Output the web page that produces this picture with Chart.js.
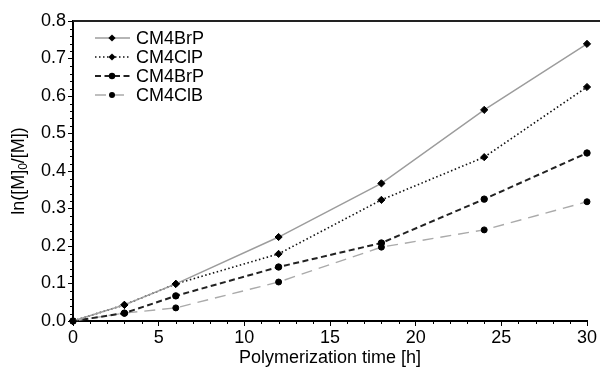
<!DOCTYPE html>
<html>
<head>
<meta charset="utf-8">
<script src="https://cdn.jsdelivr.net/npm/chart.js@4.4.1/dist/chart.umd.min.js"></script>
<style>
  html, body { margin: 0; padding: 0; background: #fff; }
</style>
</head>
<body>
<canvas id="chart" width="600" height="372"></canvas>
<script>
// data
const hours = [0, 3, 6, 12, 18, 24, 30];
const brP1 = [0, 0.043, 0.099, 0.224, 0.367, 0.563, 0.739];
const clP = [0, 0.043, 0.099, 0.179, 0.323, 0.437, 0.624];
const brP2 = [0, 0.021, 0.067, 0.144, 0.208, 0.325, 0.448];
const clB = [0, 0.021, 0.035, 0.104, 0.197, 0.243, 0.318];
const seriesNames = ['CM4BrP', 'CM4ClP', 'CM4BrP', 'CM4ClB'];
const xTitle = 'Polymerization time [h]';

const FONT = '"Liberation Sans", Arial, sans-serif';

function pts(ys) {
  return hours.map((h, i) => ({ x: h, y: ys[i] }));
}

const styles = [
  { color: '#9c9c9c', dash: [], width: 1.4, marker: 'rectRot', r: 3.6 },
  { color: '#111', dash: [1.5, 2.5], width: 1.6, marker: 'rectRot', r: 3.6 },
  { color: '#222', dash: [6, 3.5], width: 2, marker: 'circle', r: 3.2 },
  { color: '#aaa', dash: [11, 7], width: 1.4, marker: 'circle', r: 3 }
];
const seriesData = [brP1, clP, brP2, clB];

const datasets = seriesData.map((ys, i) => ({
  label: seriesNames[i],
  data: pts(ys),
  borderColor: styles[i].color,
  borderDash: styles[i].dash,
  borderWidth: styles[i].width,
  pointStyle: styles[i].marker,
  pointRadius: styles[i].r,
  pointBackgroundColor: '#000',
  pointBorderColor: '#000',
  pointBorderWidth: 1,
  tension: 0,
  clip: false
}));

// minor ticks, top border, legend, rotated y title
const decor = {
  id: 'decor',
  afterDraw(chart) {
    const ctx = chart.ctx;
    const a = chart.chartArea;
    const x = chart.scales.x, y = chart.scales.y;
    ctx.save();
    ctx.strokeStyle = '#000';
    ctx.lineWidth = 1;
    for (let v = 0; v <= 30; v += 1) {
      if (v % 5 === 0) continue;
      const px = Math.round(x.getPixelForValue(v)) + 0.5;
      ctx.beginPath(); ctx.moveTo(px, a.bottom); ctx.lineTo(px, a.bottom + 3); ctx.stroke();
    }
    for (let k = 0; k <= 40; k++) {
      if (k % 5 === 0) continue;
      const py = Math.round(y.getPixelForValue(k * 0.02)) + 0.5;
      ctx.beginPath(); ctx.moveTo(a.left - 3, py); ctx.lineTo(a.left, py); ctx.stroke();
    }
    // top frame line
    ctx.strokeStyle = '#222';
    ctx.lineWidth = 2;
    ctx.beginPath(); ctx.moveTo(a.left, a.top); ctx.lineTo(chart.width, a.top); ctx.stroke();

    // legend
    ctx.font = '18px ' + FONT;
    ctx.textBaseline = 'middle';
    ctx.fillStyle = '#000';
    seriesNames.forEach((name, i) => {
      const s = styles[i];
      const ly = 38 + i * 19;
      ctx.strokeStyle = s.color;
      ctx.lineWidth = s.width;
      ctx.setLineDash(s.dash);
      ctx.beginPath(); ctx.moveTo(95, ly); ctx.lineTo(130, ly); ctx.stroke();
      ctx.setLineDash([]);
      ctx.fillStyle = '#000';
      ctx.beginPath();
      if (s.marker === 'rectRot') {
        ctx.moveTo(112, ly - s.r); ctx.lineTo(112 + s.r, ly); ctx.lineTo(112, ly + s.r); ctx.lineTo(112 - s.r, ly);
        ctx.closePath();
      } else {
        ctx.arc(112, ly, s.r, 0, Math.PI * 2);
      }
      ctx.fill();
      ctx.fillText(name, 136, ly + 1);
    });

    // y title with subscript
    ctx.translate(19, (a.top + a.bottom) / 2);
    ctx.rotate(-Math.PI / 2);
    const p1 = 'ln([M]', sub = '0', p2 = '/[M])';
    ctx.font = '18px ' + FONT;
    const w1 = ctx.measureText(p1).width, w3 = ctx.measureText(p2).width;
    ctx.font = '12px ' + FONT;
    const w2 = ctx.measureText(sub).width;
    const total = w1 + w2 + w3;
    let cx = -total / 2;
    ctx.textAlign = 'left';
    ctx.font = '18px ' + FONT;
    ctx.fillText(p1, cx, 0); cx += w1;
    ctx.font = '12px ' + FONT;
    ctx.fillText(sub, cx, 5); cx += w2;
    ctx.font = '18px ' + FONT;
    ctx.fillText(p2, cx, 0);
    ctx.restore();
  }
};

new Chart(document.getElementById('chart'), {
  type: 'line',
  data: { datasets },
  options: {
    responsive: false,
    animation: false,
    layout: { padding: { top: 21, right: 13, left: 0, bottom: 0 } },
    plugins: { legend: { display: false }, tooltip: { enabled: false } },
    scales: {
      x: {
        type: 'linear', min: 0, max: 30,
        ticks: { stepSize: 5, color: '#000', font: { family: FONT, size: 18 }, padding: 1, maxRotation: 0 },
        grid: { drawOnChartArea: false, drawTicks: true, tickLength: 5, tickColor: '#000', tickWidth: 1 },
        border: { display: true, color: '#000', width: 2 },
        title: { display: true, text: xTitle, color: '#000', font: { family: FONT, size: 18 }, padding: { top: 0, bottom: 3 } },
        afterFit(s) { s.height = 51; }
      },
      y: {
        min: 0, max: 0.8,
        ticks: { stepSize: 0.1, color: '#000', font: { family: FONT, size: 18 }, padding: 2, callback: v => v.toFixed(1) },
        grid: { drawOnChartArea: false, drawTicks: true, tickLength: 5, tickColor: '#000', tickWidth: 1 },
        border: { display: true, color: '#000', width: 2 },
        afterFit(s) { s.width = 73; }
      }
    }
  },
  plugins: [decor]
});
</script>
</body>
</html>
